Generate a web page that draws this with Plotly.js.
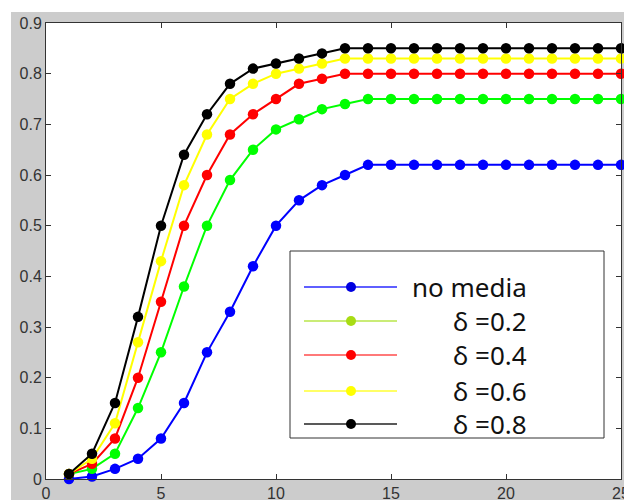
<!DOCTYPE html>
<html>
<head>
<meta charset="utf-8">
<script src="https://cdn.plot.ly/plotly-3.0.1.min.js"></script>
<style>html,body{margin:0;padding:0;background:#fff;}#chart{width:624px;height:500px;}</style>
</head>
<body>
<div id="chart"></div>
<script>
// ---- data ----
var xValues = [1,2,3,4,5,6,7,8,9,10,11,12,13,14,15,16,17,18,19,20,21,22,23,24,25];
var noMedia = [0.00,0.005,0.02,0.04,0.08,0.15,0.25,0.33,0.42,0.50,0.55,0.58,0.60,0.62,0.62,0.62,0.62,0.62,0.62,0.62,0.62,0.62,0.62,0.62,0.62];
var delta02 = [0.01,0.02,0.05,0.14,0.25,0.38,0.50,0.59,0.65,0.69,0.71,0.73,0.74,0.75,0.75,0.75,0.75,0.75,0.75,0.75,0.75,0.75,0.75,0.75,0.75];
var delta04 = [0.01,0.03,0.08,0.20,0.35,0.50,0.60,0.68,0.72,0.75,0.78,0.79,0.80,0.80,0.80,0.80,0.80,0.80,0.80,0.80,0.80,0.80,0.80,0.80,0.80];
var delta06 = [0.01,0.04,0.11,0.27,0.43,0.58,0.68,0.75,0.78,0.80,0.81,0.82,0.83,0.83,0.83,0.83,0.83,0.83,0.83,0.83,0.83,0.83,0.83,0.83,0.83];
var delta08 = [0.01,0.05,0.15,0.32,0.50,0.64,0.72,0.78,0.81,0.82,0.83,0.84,0.85,0.85,0.85,0.85,0.85,0.85,0.85,0.85,0.85,0.85,0.85,0.85,0.85];
var seriesNames = ['no media','\u03b4 =0.2','\u03b4 =0.4','\u03b4 =0.6','\u03b4 =0.8'];
var xTicks = [0,5,10,15,20,25];
var yTicks = [0,0.1,0.2,0.3,0.4,0.5,0.6,0.7,0.8,0.9];

// ---- styles ----
var seriesData = [noMedia, delta02, delta04, delta06, delta08];
var lineColors = ['#0000ff','#00ff00','#ff0000','#ffff00','#000000'];
var legendLineColors = ['#2a2aff','#b9e64a','#ff4d4d','#ffff33','#222222'];
var legendMarkerColors = ['#0000e0','#a8dc14','#ff0000','#ffff00','#000000'];

var L = 46, R = 621, T = 23, B = 479;
function px(x){ return (x - L) / (R - L); }
function py(y){ return (B - y) / (B - T); }

var traces = seriesData.map(function(d, i){
  return {
    x: xValues, y: d, type: 'scatter', mode: 'lines+markers',
    name: seriesNames[i], showlegend: false, cliponaxis: false,
    line: {color: lineColors[i], width: 2},
    marker: {color: lineColors[i], size: 10.5, symbol: 'circle'}
  };
});

var shapes = [
  // white margin strips of the figure
  {type:'rect', xref:'paper', yref:'paper', x0:px(0), x1:px(11), y0:py(500), y1:py(0), fillcolor:'#ffffff', line:{width:0}, layer:'below'},
  {type:'rect', xref:'paper', yref:'paper', x0:px(0), x1:px(624), y0:py(12), y1:py(0), fillcolor:'#ffffff', line:{width:0}, layer:'below'},
  // legend box
  {type:'rect', xref:'paper', yref:'paper', x0:px(290), x1:px(604), y0:py(438), y1:py(251), fillcolor:'#ffffff', line:{color:'#333333', width:1}}
];
var annotations = [];
var rowY = [287, 321, 355, 391, 424];
rowY.forEach(function(y, i){
  shapes.push({type:'line', xref:'paper', yref:'paper', x0:px(304), x1:px(397), y0:py(y), y1:py(y), line:{color:legendLineColors[i], width:1.5}});
  shapes.push({type:'circle', xref:'paper', yref:'paper', xsizemode:'pixel', ysizemode:'pixel',
    xanchor:px(351), yanchor:py(y), x0:-5, x1:5, y0:-5, y1:5,
    fillcolor:legendMarkerColors[i], line:{color:legendMarkerColors[i], width:0}});
  annotations.push({xref:'paper', yref:'paper', x:px(529), y:py(y), xanchor:'right', yanchor:'middle',
    text: seriesNames[i], showarrow:false, font:{family:'Noto Sans, Arial, sans-serif', size:26, color:'#111111'}});
});

var layout = {
  width: 624, height: 500,
  margin: {l: L, r: 624 - R, t: T, b: 500 - B, pad: 0},
  paper_bgcolor: '#cccccc', plot_bgcolor: '#ffffff',
  showlegend: false,
  xaxis: {range: [0, 25], tickvals: xTicks, ticktext: xTicks.map(String), ticks: 'inside', ticklen: 5,
    ticklabeloverflow: 'allow',
    tickcolor: '#333333', showline: true, linecolor: '#333333', linewidth: 1, mirror: 'ticks',
    showgrid: false, zeroline: false, tickfont: {family: 'Arial, Liberation Sans, sans-serif', size: 16, color: '#333333'}},
  yaxis: {range: [0, 0.9], tickvals: yTicks, ticktext: yTicks.map(String), ticks: 'inside', ticklen: 5,
    tickcolor: '#333333', showline: true, linecolor: '#333333', linewidth: 1, mirror: 'ticks',
    showgrid: false, zeroline: false, tickfont: {family: 'Arial, Liberation Sans, sans-serif', size: 16, color: '#333333'}},
  shapes: shapes,
  annotations: annotations
};

Plotly.newPlot('chart', traces, layout, {displayModeBar: false, staticPlot: true});
</script>
</body>
</html>
